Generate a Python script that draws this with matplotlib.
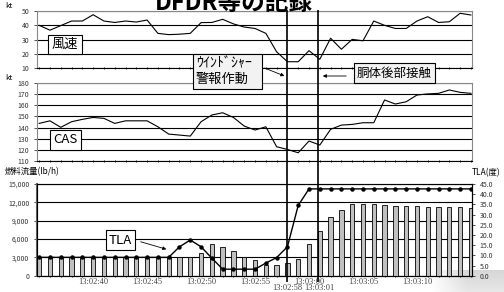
import numpy as np
import matplotlib
matplotlib.use("Agg")
import matplotlib.pyplot as plt
from matplotlib.patches import Rectangle

plt.rcParams['font.family'] = ['Noto Sans CJK JP', 'DejaVu Sans']

# seconds after 13:02:00
sec = np.arange(35, 76)
wind = [40, 36.6, 39.8, 43, 43, 47.4, 43, 42, 43, 42.3, 43.7, 34.4, 33.5, 33.8, 34.4,
        41.9, 42, 44.2, 41, 38.8, 37.8, 34.4, 21.5, 14.6, 14.6, 22.3, 16.3, 31, 23.3,
        30.2, 29.2, 43, 40, 37.8, 37.8, 43, 46, 42, 42.5, 48.4, 47.2]
cas = [143.7, 146, 140.2, 145.2, 147.3, 149, 148.2, 143.7, 146, 146, 146, 140.7, 134.2,
       133.3, 132.4, 145.2, 151.2, 153.2, 149, 141.3, 137.8, 140.7, 122.9, 120.5, 117.5,
       128, 124.4, 138.4, 142.2, 142.8, 144.3, 144.3, 164.6, 161, 163, 169, 170, 170.5,
       173.5, 171.4, 170.5]
fuel = [3000, 3000, 3050, 3050, 3050, 3000, 3000, 3000, 3000, 3000, 3000, 3000, 3000,
        3000, 3000, 3770, 5150, 4750, 4050, 3100, 2550, 1750, 1700, 2080, 2720, 5150,
        7380, 9620, 10710, 11700, 11800, 11700, 11590, 11420, 11420, 11370, 11300, 11300,
        11300, 11300, 11150]
tla = [9.0] * 13 + [14.2, 17.5, 14.2, 8.6, 3.2, 3.2, 3.2, 3.2, 6.2, 8.9, 14.2, 34.5,
                    42.6] + [42.6] * 15
tick_sec = [40, 45, 50, 55, 60, 65, 70]
tick_lab = ['13:02:40', '13:02:45', '13:02:50', '13:02:55', '13:03:00', '13:03:05', '13:03:10']
events = [58, 60.8]
event_lab = [(58, '13:02:58'), (61, '13:03:01')]

W, H = 504, 292
fig = plt.figure(figsize=(W / 100, H / 100), dpi=100)


def fx(x):
    return x / W


def fy(y):
    return 1 - y / H


L, WD = fx(37), 435 / W
xlim = (34.8, 75.1)

# faint grey smudge in the bottom right corner (behind everything)
sm = fig.add_axes([fx(430), 0, fx(74), 22 / H])
gx, gy = np.meshgrid(np.linspace(0, 1, 40), np.linspace(0, 1, 12))
rgba = np.zeros((12, 40, 4))
rgba[..., :3] = 0.55
rgba[..., 3] = np.clip(gx * 2.0, 0, 1) * (1 - gy * 0.4) * 0.35
sm.imshow(rgba, aspect='auto', origin='upper')
sm.axis('off')
sm.set_zorder(-1)


def style(ax):
    ax.set_xlim(*xlim)
    ax.set_xticks(sec, minor=True)
    ax.set_xticks([])
    ax.tick_params(axis='x', which='minor', length=2, direction='inout', width=0.6)
    ax.tick_params(axis='y', labelsize=5, length=2, width=0.6, colors='#333333')
    for s in ['top', 'right', 'left']:
        ax.spines[s].set_color('#888888')
    ax.grid(axis='y', color='black', lw=0.8)
    ax.set_axisbelow(True)


ax1 = fig.add_axes([L, fy(68.3), WD, 57.3 / H])
ax1.plot(sec, wind, color='black', lw=0.8)
ax1.set_ylim(10, 50)
ax1.set_yticks(range(10, 51, 10))
style(ax1)

ax2 = fig.add_axes([L, fy(161.2), WD, 78.5 / H])
ax2.plot(sec, cas, color='black', lw=0.8)
ax2.set_ylim(110, 180)
ax2.set_yticks(range(110, 181, 10))
style(ax2)

ax3 = fig.add_axes([L, fy(275.7), WD, 91.7 / H])
ax3.bar(sec, fuel, width=0.4, color='#c0c0c0', edgecolor='black', lw=0.6, zorder=3)
ax3.set_ylim(0, 15000)
ax3.set_yticks(range(0, 15001, 3000))
ax3.set_yticklabels(['{:,}'.format(v) for v in range(0, 15001, 3000)])
style(ax3)
ax3.patch.set_alpha(0)
ax3.set_xticks(tick_sec)
ax3.set_xticklabels(tick_lab, fontfamily='Liberation Serif', fontsize=6, color='#444444')
ax3.tick_params(axis='x', which='major', length=0, pad=1.5)
ax3.spines['left'].set_linewidth(1.5)
ax3.spines['left'].set_color('#666666')
ax3.spines['right'].set_color('black')
for s, lab in event_lab:
    ax3.text(s, -0.095, lab, transform=ax3.get_xaxis_transform(), ha='center', va='top',
             fontfamily='Liberation Serif', fontsize=6, color='#444444')

ax3b = ax3.twinx()
ax3b.plot(sec, tla, color='black', lw=1, marker='o', ms=2.2, zorder=4)
ax3b.set_ylim(0, 45)
ax3b.set_yticks(np.arange(0, 46, 5))
ax3b.set_yticklabels(['%.1f' % v for v in np.arange(0, 46, 5)])
ax3b.tick_params(axis='y', labelsize=5, length=2, width=0.6, colors='#333333')
ax3b.set_xlim(*xlim)

# vertical event lines across all panels
ov = fig.add_axes([L, fy(282), WD, 272 / H])
ov.set_xlim(*xlim)
ov.axis('off')
ov.patch.set_alpha(0)
for e in events:
    ov.axvline(e, color='black', lw=1.2)

fig.text(fx(5), fy(10), 'kt', fontsize=5.5, va='bottom')
fig.text(fx(5), fy(82), 'kt', fontsize=5.5, va='bottom')
fig.text(fx(5), fy(176), '燃料流量(lb/h)', fontsize=6, va='bottom')
fig.text(fx(500), fy(177), 'TLA(度)', fontsize=6, va='bottom', ha='right')
fig.text(fx(234), fy(10), 'DFDR等の記録', fontsize=17, fontweight='bold', ha='center',
         va='baseline')

box = dict(boxstyle='square,pad=0.25', fc='white', ec='black', lw=0.8)
fig.text(fx(65), fy(44.5), '風速', fontsize=9.5, ha='center', va='center', bbox=box)
fig.text(fx(65.5), fy(140), 'CAS', fontsize=9.5, ha='center', va='center', bbox=box)
fig.text(fx(120.5), fy(240), 'TLA', fontsize=9.5, ha='center', va='center', bbox=box)
fig.text(fx(394.5), fy(73), '胴体後部接触', fontsize=9, ha='center', va='center',
         bbox=dict(boxstyle='square,pad=0.25', fc='#f2f2f2', ec='black', lw=0.8))

fig.patches.append(Rectangle((fx(193), fy(89)), fx(69), 35 / H, transform=fig.transFigure,
                             fc='#f2f2f2', ec='black', lw=0.8, zorder=5))
fig.text(fx(196), fy(63), 'ｳｲﾝﾄﾞｼｬｰ', fontsize=10, va='center', zorder=6)
fig.text(fx(196), fy(79), '警報作動', fontsize=9.5, va='center', zorder=6)

arr = dict(arrowstyle='-|>', color='black', lw=0.6, mutation_scale=5)
ov.annotate('', xy=(fx(287), fy(77)), xytext=(fx(262), fy(67)),
            xycoords='figure fraction', arrowprops=arr)
ov.annotate('', xy=(fx(320), fy(76)), xytext=(fx(349), fy(76)),
            xycoords='figure fraction', arrowprops=arr)
ov.annotate('', xy=(fx(169), fy(250)), xytext=(fx(138), fy(241)),
            xycoords='figure fraction', arrowprops=arr)

fig.savefig('out.png', dpi=100)
